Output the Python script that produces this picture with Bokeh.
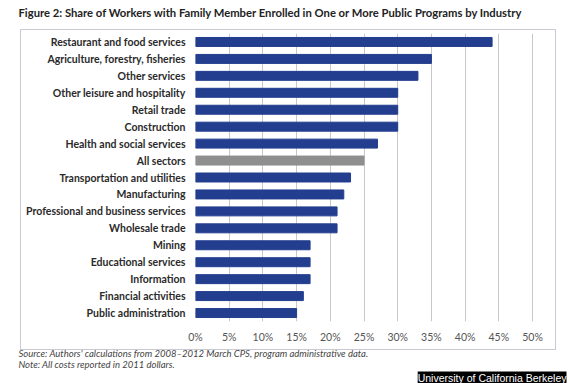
from bokeh.plotting import figure
from bokeh.models import (FactorRange, Range1d, FixedTicker, NumeralTickFormatter,
                          Title, ColumnDataSource, InlineStyleSheet)
from bokeh.embed import file_html
from bokeh.resources import INLINE

industries = [
    "Restaurant and food services",
    "Agriculture, forestry, fisheries",
    "Other services",
    "Other leisure and hospitality",
    "Retail trade",
    "Construction",
    "Health and social services",
    "All sectors",
    "Transportation and utilities",
    "Manufacturing",
    "Professional and business services",
    "Wholesale trade",
    "Mining",
    "Educational services",
    "Information",
    "Financial activities",
    "Public administration",
]
shares = [0.44, 0.35, 0.33, 0.30, 0.30, 0.30, 0.27, 0.25, 0.23, 0.22, 0.21, 0.21,
          0.17, 0.17, 0.17, 0.16, 0.15]
tick_values = [0, 0.05, 0.10, 0.15, 0.20, 0.25, 0.30, 0.35, 0.40, 0.45, 0.50]

title_text = "Figure 2: Share of Workers with Family Member Enrolled in One or More Public Programs by Industry"
source_text = "Source: Authors' calculations from 2008\u20132012 March CPS, program administrative data."
note_text = "Note: All costs reported in 2011 dollars."
credit_text = "University of California Berkeley"

BLUE = "#233e8f"
GRAY = "#8f8f8f"
colors = [GRAY if c == "All sectors" else BLUE for c in industries]

src = ColumnDataSource(dict(y=industries, right=shares, color=colors))

p = figure(width=570, height=383, output_backend="svg", toolbar_location=None,
           y_range=FactorRange(factors=list(reversed(industries))),
           x_range=Range1d(0, 0.5504),
           min_border_left=195, min_border_right=4, min_border_top=33, min_border_bottom=60)
p.outline_line_color = None
p.background_fill_color = "white"
p.border_fill_color = "white"

# light frame around the chart area (drawn as a CSS overlay on the plot element)
p.stylesheets = [InlineStyleSheet(css=(
    ":host::after { content: ''; position: absolute; left: 20px; top: 29px; "
    "width: 536px; height: 321px; border: 1.5px solid #c9c9d4; "
    "box-sizing: border-box; pointer-events: none; z-index: 10; }"))]

# the blank second line only reserves room between the title and the chart box
p.title.text = title_text + "\n "
p.title.text_font = "Lato"
p.title.text_font_style = "bold"
p.title.text_font_size = "11.25px"
p.title.text_color = "#222222"
p.title.align = "left"
p.title.vertical_align = "top"
p.title.offset = -177
p.title.standoff = 0

p.hbar(y="y", right="right", left=0, height=0.53, color="color", source=src)

p.xaxis.ticker = FixedTicker(ticks=tick_values)
p.xaxis.formatter = NumeralTickFormatter(format="0%")
p.xaxis.axis_line_color = None
p.xaxis.major_tick_line_color = None
p.xaxis.minor_tick_line_color = None
p.xaxis.major_tick_out = 0
p.xaxis.major_tick_in = 0
p.xaxis.minor_tick_out = 0
p.xaxis.major_label_standoff = 9
p.xaxis.major_label_text_font = "Lato"
p.xaxis.major_label_text_font_size = "10.5px"
p.xaxis.major_label_text_color = "#555555"

p.yaxis.axis_line_color = None
p.yaxis.major_tick_line_color = None
p.yaxis.minor_tick_line_color = None
p.yaxis.major_tick_out = 0
p.yaxis.major_tick_in = 0
p.yaxis.minor_tick_out = 0
p.yaxis.major_label_standoff = 10
p.yaxis.major_label_text_font = "Lato"
p.yaxis.major_label_text_font_style = "bold"
p.yaxis.major_label_text_font_size = "10.5px"
p.yaxis.major_label_text_color = "#2a2a2a"

p.xgrid.grid_line_color = "#c8c8c8"
p.ygrid.grid_line_color = None

p.add_layout(Title(text=source_text + "\n" + note_text, text_font="Lato",
                   text_font_style="italic", text_font_size="9.5px",
                   text_color="#444444", align="left", offset=-177, standoff=0), "below")
p.add_layout(Title(text=credit_text, text_font="Liberation Sans", text_font_size="10.5px",
                   text_font_style="normal", text_color="white", align="right",
                   offset=0, standoff=0, background_fill_color="black"), "below")

open("out.html", "w").write(file_html(p, INLINE))
